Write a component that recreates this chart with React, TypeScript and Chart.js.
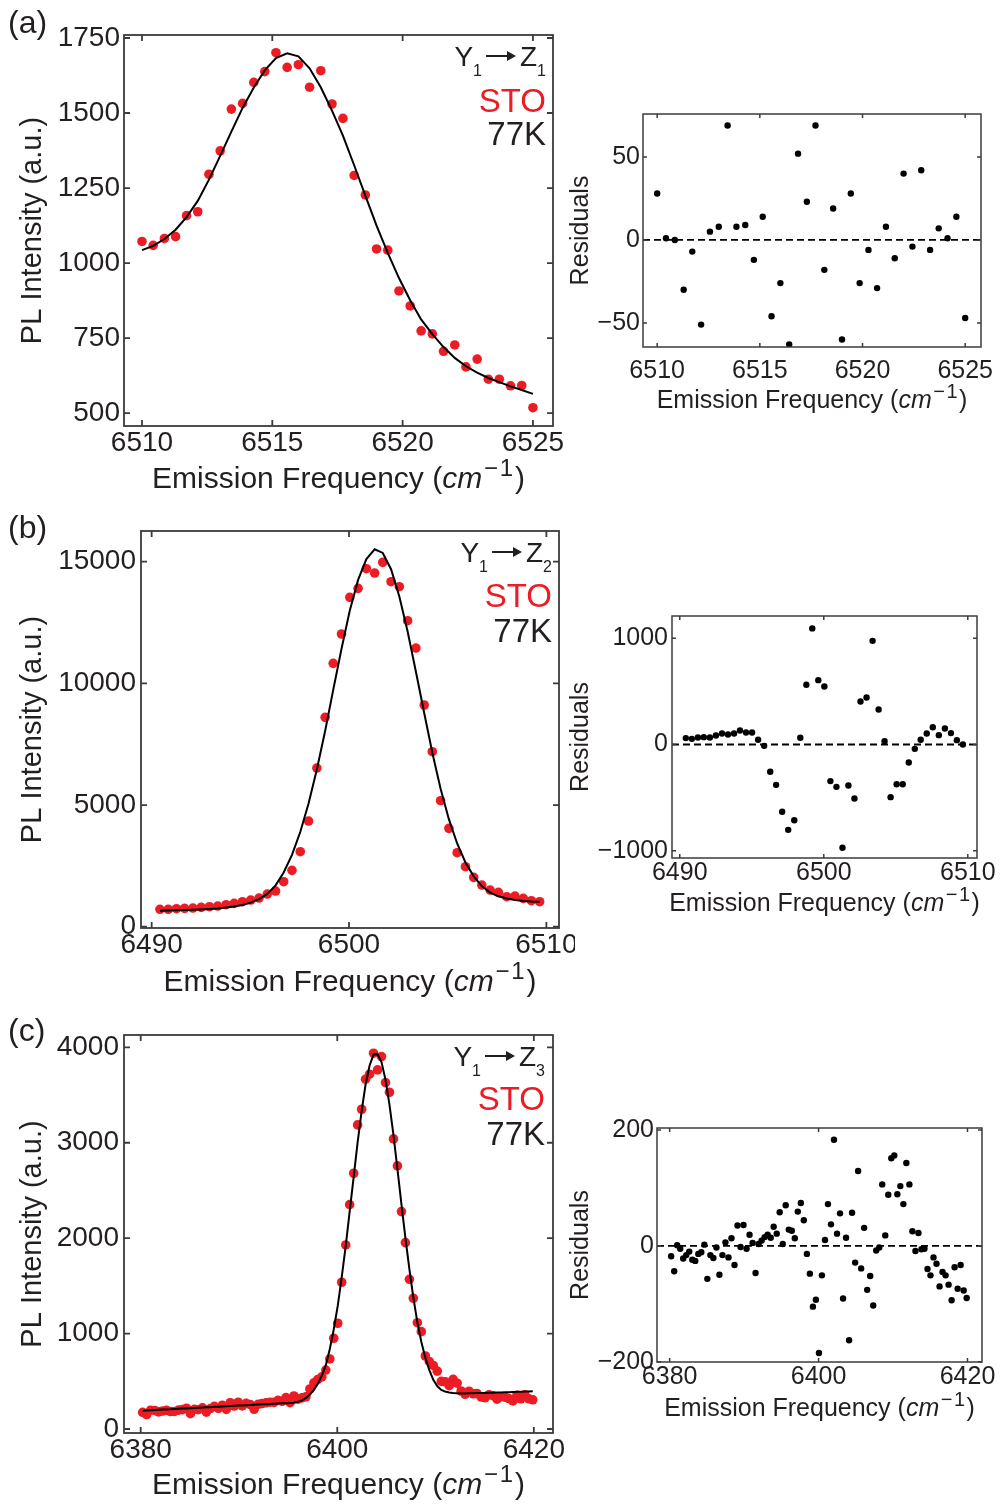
import React, { useEffect, useRef } from "react";
import { Chart, registerables } from "chart.js";
Chart.register(...registerables);

const FONT = '"Liberation Sans", Arial, Helvetica, sans-serif';
const INK = "#231f20";
const RED = "#ec1c24";

// ---------- Panel (a): Y1 -> Z1 ----------
const FREQ_A = [6510.0, 6510.43, 6510.86, 6511.29, 6511.71, 6512.14, 6512.57, 6513.0, 6513.43, 6513.86, 6514.29, 6514.71, 6515.14, 6515.57, 6516.0, 6516.43, 6516.86, 6517.29, 6517.71, 6518.14, 6518.57, 6519.0, 6519.43, 6519.86, 6520.29, 6520.71, 6521.14, 6521.57, 6522.0, 6522.43, 6522.86, 6523.29, 6523.71, 6524.14, 6524.57, 6525.0];
const PL_A = [1072, 1059, 1082, 1088, 1158, 1171, 1296, 1374, 1513, 1532, 1602, 1638, 1701, 1652, 1661, 1586, 1641, 1530, 1482, 1292, 1227, 1047, 1043, 907, 857, 774, 764, 706, 727, 654, 680, 613, 613, 591, 592, 518];
const FIT_A = [1043, 1057, 1080, 1111, 1153, 1207, 1278, 1357, 1438, 1517, 1585, 1642, 1683, 1699, 1689, 1649, 1586, 1508, 1425, 1326, 1225, 1125, 1034, 950, 876, 812, 763, 720, 684, 656, 635, 617, 603, 589, 577, 564];
const RES_A = [28, 1, 0, -30, -7, -51, 5, 8, 69, 8, 9, -12, 14, -46, -26, -63, 52, 23, 69, -18, 19, -60, 28, -26, -6, -29, 8, -11, 40, -4, 42, -6, 7, 1, 14, -47];
const X_TICKS_A = [6510, 6515, 6520, 6525];
const Y_TICKS_A = [500, 750, 1000, 1250, 1500, 1750];
const R_TICKS_A = [-50, 0, 50];

// ---------- Panel (b): Y1 -> Z2 ----------
const FREQ_B = [6490.42, 6490.84, 6491.26, 6491.67, 6492.09, 6492.51, 6492.93, 6493.35, 6493.77, 6494.18, 6494.6, 6495.02, 6495.44, 6495.86, 6496.28, 6496.69, 6497.11, 6497.53, 6497.95, 6498.37, 6498.79, 6499.2, 6499.62, 6500.04, 6500.46, 6500.88, 6501.3, 6501.71, 6502.13, 6502.55, 6502.97, 6503.39, 6503.81, 6504.22, 6504.64, 6505.06, 6505.48, 6505.9, 6506.32, 6506.73, 6507.15, 6507.57, 6507.99, 6508.41, 6508.83, 6509.24, 6509.66];
const PL_B = [715, 715, 740, 753, 767, 795, 822, 849, 904, 958, 1027, 1096, 1178, 1342, 1466, 1849, 2315, 3082, 4343, 6521, 8603, 10822, 12028, 13534, 13904, 14712, 14534, 14973, 14178, 13973, 12575, 11452, 9110, 7192, 5178, 4041, 3041, 2466, 2027, 1712, 1507, 1411, 1233, 1260, 1164, 1068, 1027];
const FIT_B = [655, 662, 672, 684, 697, 710, 728, 752, 785, 830, 895, 990, 1130, 1350, 1700, 2230, 2950, 3890, 5060, 6460, 8040, 9730, 11420, 12990, 14250, 15110, 15510, 15360, 14690, 13570, 12130, 10480, 8780, 7160, 5670, 4420, 3420, 2640, 2070, 1670, 1400, 1250, 1160, 1100, 1060, 1035, 1025];
const RES_B = [60, 53, 66, 69, 66, 85, 104, 94, 104, 132, 113, 113, 44, -13, -257, -380, -634, -804, -713, 63, 562, 1093, 606, 546, -345, -399, -973, -386, -509, 405, 443, 976, 330, 31, -496, -374, -374, -170, -41, 44, 104, 163, 88, 151, 107, 41, 0];
const X_TICKS_B = [6490, 6500, 6510];
const Y_TICKS_B = [0, 5000, 10000, 15000];
const R_TICKS_B = [-1000, 0, 1000];

// ---------- Panel (c): Y1 -> Z3 ----------
const FREQ_C = [
  6380.2, 6380.61, 6381.01, 6381.42, 6381.82, 6382.23, 6382.63, 6383.04, 6383.44, 6383.85,
  6384.25, 6384.66, 6385.06, 6385.47, 6385.87, 6386.28, 6386.68, 6387.09, 6387.49, 6387.9,
  6388.3, 6388.71, 6389.11, 6389.52, 6389.92, 6390.33, 6390.73, 6391.14, 6391.54, 6391.95,
  6392.35, 6392.76, 6393.16, 6393.57, 6393.97, 6394.38, 6394.78, 6395.19, 6395.59, 6396.0,
  6396.4, 6396.81, 6397.21, 6397.62, 6398.02, 6398.43, 6398.83, 6399.24, 6399.64, 6400.05,
  6400.45, 6400.86, 6401.26, 6401.67, 6402.07, 6402.48, 6402.88, 6403.29, 6403.69, 6404.1,
  6404.5, 6404.91, 6405.31, 6405.72, 6406.12, 6406.53, 6406.93, 6407.34, 6407.74, 6408.15,
  6408.55, 6408.96, 6409.36, 6409.77, 6410.17, 6410.58, 6410.98, 6411.39, 6411.79, 6412.2,
  6412.6, 6413.01, 6413.41, 6413.82, 6414.22, 6414.63, 6415.03, 6415.44, 6415.84, 6416.25,
  6416.65, 6417.06, 6417.46, 6417.87, 6418.27, 6418.68, 6419.08, 6419.49, 6419.89,
];
const PL_C = [
  174, 150, 197, 194, 179, 188, 195, 183, 184, 198,
  203, 218, 161, 206, 202, 222, 177, 214, 238, 215,
  249, 205, 275, 241, 281, 242, 268, 256, 207, 259,
  267, 275, 281, 279, 300, 290, 329, 276, 346, 313,
  326, 338, 419, 484, 519, 546, 618, 734, 951, 1108,
  1538, 1929, 2351, 2680, 3187, 3351, 3666, 3718, 3938, 3763,
  3903, 3630, 3529, 3040, 2757, 2278, 1953, 1569, 1370, 1114,
  1020, 765, 708, 666, 606, 499, 495, 454, 520, 480,
  398, 364, 396, 369, 371, 337, 327, 359, 349, 312,
  338, 334, 319, 294, 352, 317, 359, 317, 306,
];
const FIT_C = [
  192, 194, 196, 199, 201, 203, 205, 207, 210, 212,
  214, 216, 218, 221, 223, 225, 227, 229, 232, 234,
  236, 238, 240, 243, 245, 247, 249, 251, 254, 256,
  258, 260, 262, 265, 267, 269, 271, 273, 276, 285,
  300, 325, 360, 410, 475, 560, 666, 839, 1043, 1292,
  1589, 1919, 2279, 2643, 3004, 3330, 3610, 3809, 3924, 3926,
  3846, 3659, 3400, 3079, 2727, 2354, 2005, 1672, 1378, 1117,
  914, 747, 620, 515, 450, 410, 392, 382, 377, 374,
  373, 373, 374, 375, 376, 377, 378, 379, 380, 382,
  383, 385, 386, 388, 389, 391, 392, 394, 396,
];
const RES_C = [
  -18, -44, 1, -5, -22, -16, -10, -24, -26, -14,
  -11, 2, -57, -16, -21, -3, -50, -16, 6, -20,
  13, -33, 35, -2, 36, -5, 19, 5, -47, 3,
  9, 15, 19, 14, 33, 21, 58, 3, 70, 28,
  26, 13, 59, 74, 44, -14, -48, -105, -93, -185,
  -51, 10, 72, 37, 183, 21, 56, -91, 14, -163,
  57, -29, 129, -39, 31, -76, -52, -103, -8, -3,
  106, 18, 88, 151, 156, 89, 103, 72, 143, 106,
  25, -9, 22, -6, -5, -40, -51, -20, -31, -70,
  -45, -51, -67, -94, -37, -74, -33, -77, -90,
];
const X_TICKS_C = [6380, 6400, 6420];
const Y_TICKS_C = [0, 1000, 2000, 3000, 4000];
const R_TICKS_C = [-200, 0, 200];

// ---------- helpers ----------
const fmt = (v: number) => (v < 0 ? "\u2212" + Math.abs(v) : String(v));
const pts = (xs: number[], ys: number[]) => xs.map((x, i) => ({ x, y: ys[i] }));

const framePlugin = {
  id: "frameTicks",
  afterDatasetsDraw(chart: any, _args: any, opts: any) {
    const { ctx, chartArea: a, scales } = chart;
    const len = opts.len ?? 5;
    ctx.save();
    ctx.strokeStyle = "#3b3b3b";
    ctx.lineWidth = opts.lw ?? 1.5;
    ctx.beginPath();
    scales.x.ticks.forEach((t: any) => {
      const p = scales.x.getPixelForValue(t.value);
      ctx.moveTo(p, a.bottom);
      ctx.lineTo(p, a.bottom - len);
      ctx.moveTo(p, a.top);
      ctx.lineTo(p, a.top + len);
    });
    scales.y.ticks.forEach((t: any) => {
      const p = scales.y.getPixelForValue(t.value);
      ctx.moveTo(a.left, p);
      ctx.lineTo(a.left + len, p);
      ctx.moveTo(a.right, p);
      ctx.lineTo(a.right - len, p);
    });
    ctx.stroke();
    ctx.strokeRect(a.left, a.top, a.right - a.left, a.bottom - a.top);
    ctx.restore();
  },
};

type Panel = {
  left: number; top: number; width: number; height: number;
  yW: number; padTop: number; padRight: number; xH: number;
  xMin: number; xMax: number; yMin: number; yMax: number;
  xTicks: number[]; yTicks: number[];
  tickFont: number; titleFont: number; yTitle: string; yTitlePad: number;
  xTickPad: number; yTickPad: number; tickLen: number; frameW: number;
  datasets: any[];
};

function mainSets(fx: number[], data: number[], fit: number[]) {
  return [
    { type: "line", data: pts(fx, fit), borderColor: "#000", borderWidth: 2, pointRadius: 0, tension: 0, fill: false, order: 0 },
    { type: "scatter", data: pts(fx, data), backgroundColor: RED, borderColor: RED, borderWidth: 0, pointRadius: 4.8, order: 1 },
  ];
}
function resSets(fx: number[], res: number[], xMin: number, xMax: number) {
  return [
    { type: "line", data: [{ x: xMin, y: 0 }, { x: xMax, y: 0 }], borderColor: "#000", borderWidth: 1.8, borderDash: [7, 4], pointRadius: 0, order: 1 },
    { type: "scatter", data: pts(fx, res), backgroundColor: "#000", borderColor: "#000", borderWidth: 0, pointRadius: 3.2, order: 0 },
  ];
}

function ChartPanel({ p }: { p: Panel }) {
  const ref = useRef<HTMLCanvasElement>(null);
  useEffect(() => {
    const chart = new Chart(ref.current as HTMLCanvasElement, {
      type: "scatter",
      data: { datasets: p.datasets },
      plugins: [framePlugin],
      options: {
        animation: false,
        responsive: false,
        maintainAspectRatio: false,
        devicePixelRatio: 1,
        events: [],
        layout: { padding: { top: p.padTop, right: p.padRight, left: 0, bottom: 0 }, autoPadding: false },
        plugins: {
          legend: { display: false },
          tooltip: { enabled: false },
          frameTicks: { len: p.tickLen, lw: p.frameW },
        },
        scales: {
          x: {
            type: "linear",
            position: "bottom",
            min: p.xMin,
            max: p.xMax,
            grid: { display: false, drawTicks: false },
            border: { display: false },
            ticks: { font: { family: FONT, size: p.tickFont }, color: INK, padding: p.xTickPad, maxRotation: 0, autoSkip: false, callback: (v: any) => fmt(Number(v)) },
            afterBuildTicks: (s: any) => { s.ticks = p.xTicks.map((v) => ({ value: v })); },
            afterFit: (s: any) => { s.height = p.xH; s.paddingLeft = 0; s.paddingRight = 0; },
          },
          y: {
            type: "linear",
            position: "left",
            min: p.yMin,
            max: p.yMax,
            grid: { display: false, drawTicks: false },
            border: { display: false },
            ticks: { font: { family: FONT, size: p.tickFont }, color: INK, padding: p.yTickPad, autoSkip: false, callback: (v: any) => fmt(Number(v)) },
            title: { display: true, text: p.yTitle, color: INK, font: { family: FONT, size: p.titleFont }, padding: { top: p.yTitlePad, bottom: 0 } },
            afterBuildTicks: (s: any) => { s.ticks = p.yTicks.map((v) => ({ value: v })); },
            afterFit: (s: any) => { s.width = p.yW; s.paddingTop = 0; s.paddingBottom = 0; },
          },
        },
      } as any,
    } as any);
    return () => chart.destroy();
  }, []);
  return (
    <canvas
      ref={ref}
      width={p.width}
      height={p.height}
      style={{ position: "absolute", left: p.left, top: p.top, width: p.width, height: p.height }}
    />
  );
}

function XTitle({ cx, base, size }: { cx: number; base: number; size: number }) {
  return (
    <div
      style={{
        position: "absolute", left: cx - 300, width: 600, top: base - 0.8465 * size, textAlign: "center",
        fontFamily: FONT, fontSize: size, lineHeight: `${size}px`, color: INK, whiteSpace: "nowrap",
      }}
    >
      Emission Frequency (<i>cm</i>
      <span style={{ fontSize: size * 0.8, position: "relative", top: -size * 0.4, marginLeft: size * 0.06, marginRight: size * 0.06 }}>
        <span style={{ marginRight: size * 0.06 }}>{"\u2212"}</span>1
      </span>)
    </div>
  );
}

function Arrow() {
  return (
    <span style={{ display: "inline-block", position: "relative", width: 22, height: 2, background: INK, verticalAlign: 9, margin: "0 12px 0 4px" }}>
      <span
        style={{
          position: "absolute", left: 21, top: -4, width: 0, height: 0,
          borderLeft: `9px solid ${INK}`, borderTop: "5px solid transparent", borderBottom: "5px solid transparent",
        }}
      />
    </span>
  );
}

function Annot({ right, b1, b2, b3, sub }: { right: number; b1: number; b2: number; b3: number; sub: string }) {
  const common: React.CSSProperties = { position: "absolute", right: 1000 - right, fontFamily: FONT, whiteSpace: "nowrap", lineHeight: 1 };
  const subS: React.CSSProperties = { fontSize: 16, position: "relative", top: 10 };
  return (
    <>
      <div style={{ ...common, top: b1 - 0.8465 * 28, fontSize: 28, color: INK }}>
        Y<span style={subS}>1</span>
        <Arrow />Z<span style={subS}>{sub}</span>
      </div>
      <div style={{ ...common, top: b2 - 0.8465 * 33, fontSize: 33, color: RED }}>STO</div>
      <div style={{ ...common, top: b3 - 0.8465 * 33, fontSize: 33, color: INK }}>77K</div>
    </>
  );
}

function Label({ text, top }: { text: string; top: number }) {
  return (
    <div style={{ position: "absolute", left: 8, top, fontFamily: FONT, fontSize: 32, lineHeight: 1, color: INK }}>{text}</div>
  );
}

const MAIN_X_A: [number, number] = [6509.31, 6525.77];
const MAIN_X_B: [number, number] = [6489.46, 6510.64];
const MAIN_X_C: [number, number] = [6378.3, 6421.95];

const panels: Panel[] = [
  {
    left: 0, top: 0, width: 575, height: 505, yW: 124, padTop: 35, padRight: 22, xH: 79,
    xMin: MAIN_X_A[0], xMax: MAIN_X_A[1], yMin: 457, yMax: 1760, xTicks: X_TICKS_A, yTicks: Y_TICKS_A,
    tickFont: 28, titleFont: 29, yTitle: "PL Intensity (a.u.)", yTitlePad: 15.6, xTickPad: 0, yTickPad: 4, tickLen: 6, frameW: 1.8,
    datasets: mainSets(FREQ_A, PL_A, FIT_A),
  },
  {
    left: 560, top: 80, width: 440, height: 350, yW: 83, padTop: 34, padRight: 19, xH: 83,
    xMin: MAIN_X_A[0], xMax: MAIN_X_A[1], yMin: -64.5, yMax: 75.9, xTicks: X_TICKS_A, yTicks: R_TICKS_A,
    tickFont: 25, titleFont: 25, yTitle: "Residuals", yTitlePad: 6, xTickPad: 9, yTickPad: 3, tickLen: 4, frameW: 1.5,
    datasets: resSets(FREQ_A, RES_A, MAIN_X_A[0], MAIN_X_A[1]),
  },
  {
    left: 0, top: 505, width: 575, height: 505, yW: 141, padTop: 26, padRight: 16, xH: 82,
    xMin: MAIN_X_B[0], xMax: MAIN_X_B[1], yMin: -53, yMax: 16261, xTicks: X_TICKS_B, yTicks: Y_TICKS_B,
    tickFont: 28, titleFont: 29, yTitle: "PL Intensity (a.u.)", yTitlePad: 15.6, xTickPad: 0, yTickPad: 5, tickLen: 6, frameW: 1.8,
    datasets: mainSets(FREQ_B, PL_B, FIT_B),
  },
  {
    left: 560, top: 590, width: 440, height: 340, yW: 112, padTop: 26, padRight: 23, xH: 72,
    xMin: MAIN_X_B[0], xMax: MAIN_X_B[1], yMin: -1069, yMax: 1210, xTicks: X_TICKS_B, yTicks: R_TICKS_B,
    tickFont: 25, titleFont: 25, yTitle: "Residuals", yTitlePad: 6, xTickPad: 0, yTickPad: 4, tickLen: 4, frameW: 1.5,
    datasets: resSets(FREQ_B, RES_B, MAIN_X_B[0], MAIN_X_B[1]),
  },
  {
    left: 0, top: 1010, width: 575, height: 496, yW: 124, padTop: 25, padRight: 22, xH: 73,
    xMin: MAIN_X_C[0], xMax: MAIN_X_C[1], yMin: -42, yMax: 4129, xTicks: X_TICKS_C, yTicks: Y_TICKS_C,
    tickFont: 28, titleFont: 29, yTitle: "PL Intensity (a.u.)", yTitlePad: 15.6, xTickPad: 0, yTickPad: 5, tickLen: 6, frameW: 1.8,
    datasets: mainSets(FREQ_C, PL_C, FIT_C),
  },
  {
    left: 560, top: 1100, width: 440, height: 340, yW: 97, padTop: 28, padRight: 18, xH: 78,
    xMin: MAIN_X_C[0], xMax: MAIN_X_C[1], yMin: -200.5, yMax: 203.3, xTicks: X_TICKS_C, yTicks: R_TICKS_C,
    tickFont: 25, titleFont: 25, yTitle: "Residuals", yTitlePad: 6, xTickPad: 0, yTickPad: 3, tickLen: 4, frameW: 1.5,
    datasets: resSets(FREQ_C, RES_C, MAIN_X_C[0], MAIN_X_C[1]),
  },
];

export default function App() {
  return (
    <div style={{ position: "absolute", left: 0, top: 0, width: 1000, height: 1506, background: "#fff", overflow: "hidden" }}>
      {panels.map((p, i) => (
        <ChartPanel key={i} p={p} />
      ))}
      <Label text="(a)" top={6} />
      <Label text="(b)" top={511} />
      <Label text="(c)" top={1014} />
      <Annot right={546} b1={67} b2={112} b3={145} sub="1" />
      <Annot right={552} b1={563} b2={607} b3={642} sub="2" />
      <Annot right={545} b1={1067} b2={1110} b3={1145} sub="3" />
      <XTitle cx={338.5} base={488} size={30} />
      <XTitle cx={350} base={991} size={30} />
      <XTitle cx={338.5} base={1494} size={30} />
      <XTitle cx={812} base={408} size={25} />
      <XTitle cx={824.5} base={911} size={25} />
      <XTitle cx={819.5} base={1416} size={25} />
    </div>
  );
}
